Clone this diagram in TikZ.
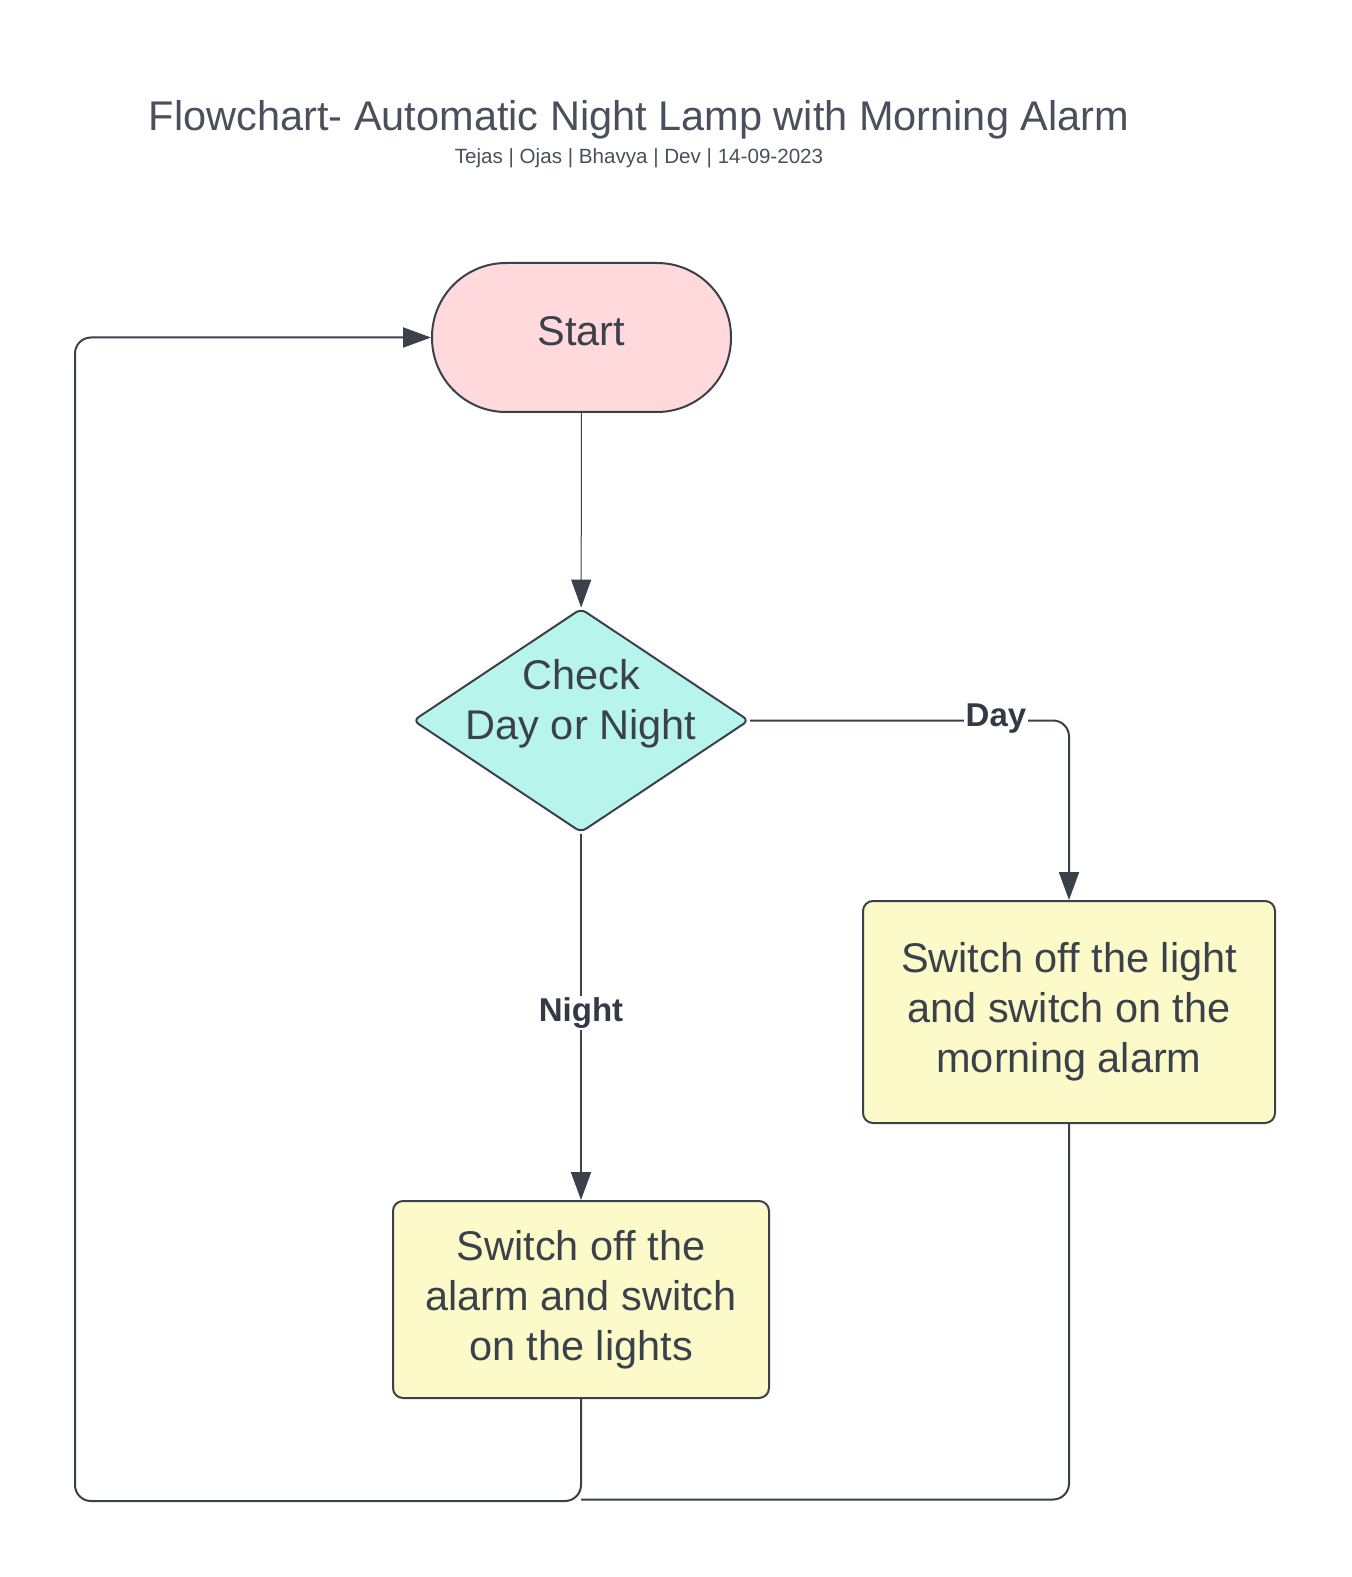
\documentclass[tikz,border=0pt]{standalone}
\usepackage{fontspec}
\setmainfont{Liberation Sans}
\usetikzlibrary{shapes.geometric,arrows.meta}
\definecolor{ink}{HTML}{3A414A}
\definecolor{titleink}{HTML}{4A505B}
\definecolor{pinkfill}{HTML}{FFD9DB}
\definecolor{cyanfill}{HTML}{B7F4EC}
\definecolor{yellowfill}{HTML}{FCFAC8}
\tikzset{
  every node/.style={text=ink},
  bigtext/.style={font=\fontsize{20.75}{25}\selectfont},
  startbox/.style={draw=ink, line width=1pt, fill=pinkfill, rectangle, rounded corners=37pt,
    minimum width=149.5pt, minimum height=74.5pt, inner sep=0pt},
  decbox/.style={draw=ink, line width=1pt, fill=cyanfill, diamond, rounded corners=3pt,
    minimum width=168pt, minimum height=112pt, inner sep=0pt},
  procbox/.style={draw=ink, line width=1pt, fill=yellowfill, rectangle, rounded corners=5pt,
    inner sep=0pt, align=center, bigtext},
  conn/.style={draw=ink, line width=1pt, rounded corners=8pt},
  tip/.style={-{Triangle[length=14pt,width=10pt]}},
  edgelabel/.style={fill=white, inner sep=1pt, font=\bfseries\fontsize{16.5}{19}\selectfont, text=ink!90!black},
}
\begin{document}
\begin{tikzpicture}[x=0.5pt,y=-0.5pt]
\useasboundingbox (0,0) rectangle (1352,1577);
\node[text=titleink, font=\fontsize{20.75}{25}\selectfont] (title) at (639,120) {Flowchart- Automatic Night Lamp with Morning Alarm};
\node[text=titleink, font=\fontsize{10.3}{12}\selectfont] (sub) at (639,158) {Tejas | Ojas | Bhavya | Dev | 14-09-2023};
\node[startbox, label={[bigtext, text=ink, yshift=3pt]center:Start}] (start) at (581.5,337.5) {};
\node[decbox, label={[align=center, yshift=8.5pt, bigtext, text=ink]center:Check\\Day or Night}] (dia) at (581,720.5) {};
\node[procbox, minimum width=206pt, minimum height=111pt] (day) at (1069,1012) {Switch off the light\\and switch on the\\morning alarm};
\node[procbox, minimum width=188pt, minimum height=98.5pt] (night) at (581,1299.5) {Switch off the\\alarm and switch\\on the lights};
\coordinate (rend) at (581,1499.5);
\coordinate (lbot) at (75,1501);
\draw[draw=ink, line width=0.5pt, tip] (start) -- (dia);
\draw[conn, tip] (dia.east) -| (day.north);
\node[edgelabel] (daylbl) at (996,719) {Day};
\draw[conn, tip] (dia.south) -- (night.north);
\node[edgelabel] (nightlbl) at (581,1013) {Night};
\draw[conn, tip] (night.south) |- (lbot) |- (start.west);
\draw[conn] (day.south) |- (rend);
\end{tikzpicture}
\end{document}
